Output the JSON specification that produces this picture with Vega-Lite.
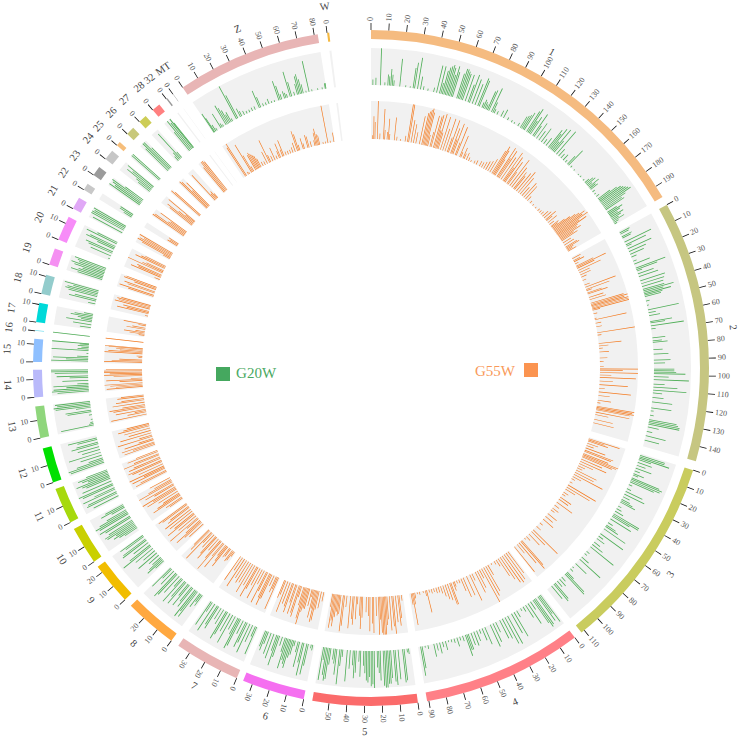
{"$schema":"https://vega.github.io/schema/vega-lite/v6.json","width":738,"height":736,"autosize":"none","padding":{"left":2,"top":0,"right":0,"bottom":4},"background":"white","config":{"view":{"stroke":null}},
"datasets":{
"chroms":[{"c":"1","start":0,"end":197},{"c":"2","start":202,"end":350.5},{"c":"3","start":355.7,"end":467.7},{"c":"4","start":472.4,"end":563.4},{"c":"5","start":568.6,"end":628.1},{"c":"6","start":633,"end":668.5},{"c":"7","start":672.4,"end":709.9},{"c":"8","start":714.7,"end":744.7},{"c":"9","start":749.4,"end":773.4},{"c":"10","start":776.9,"end":798.4},{"c":"11","start":802.6,"end":823.1},{"c":"12","start":827,"end":847},{"c":"13","start":852.9,"end":870.9},{"c":"14","start":876,"end":891.5},{"c":"15","start":895.9,"end":908.9},{"c":"16","start":913.4,"end":913.9},{"c":"17","start":918.3,"end":929.3},{"c":"18","start":934.5,"end":945.5},{"c":"19","start":951.4,"end":961},{"c":"20","start":966.3,"end":980.3},{"c":"21","start":985.5,"end":992.5},{"c":"22","start":997.7,"end":1001.7},{"c":"23","start":1007.6,"end":1013.1},{"c":"24","start":1018.8,"end":1024.8},{"c":"25","start":1028.8,"end":1031.3},{"c":"26","start":1037.4,"end":1042.2},{"c":"27","start":1047,"end":1051.8},{"c":"28","start":1057,"end":1061.8},{"c":"32","start":1066.8,"end":1067.6},{"c":"MT","start":1071.4,"end":1071.6},{"c":"Z","start":1078,"end":1160},{"c":"W","start":1165.3,"end":1166.5}],
"ticks":[{"c":"1","m":0},{"c":"1","m":10},{"c":"1","m":20},{"c":"1","m":30},{"c":"1","m":40},{"c":"1","m":50},{"c":"1","m":60},{"c":"1","m":70},{"c":"1","m":80},{"c":"1","m":90},{"c":"1","m":100},{"c":"1","m":110},{"c":"1","m":120},{"c":"1","m":130},{"c":"1","m":140},{"c":"1","m":150},{"c":"1","m":160},{"c":"1","m":170},{"c":"1","m":180},{"c":"1","m":190},{"c":"2","m":0},{"c":"2","m":10},{"c":"2","m":20},{"c":"2","m":30},{"c":"2","m":40},{"c":"2","m":50},{"c":"2","m":60},{"c":"2","m":70},{"c":"2","m":80},{"c":"2","m":90},{"c":"2","m":100},{"c":"2","m":110},{"c":"2","m":120},{"c":"2","m":130},{"c":"2","m":140},{"c":"3","m":0},{"c":"3","m":10},{"c":"3","m":20},{"c":"3","m":30},{"c":"3","m":40},{"c":"3","m":50},{"c":"3","m":60},{"c":"3","m":70},{"c":"3","m":80},{"c":"3","m":90},{"c":"3","m":100},{"c":"3","m":110},{"c":"4","m":0},{"c":"4","m":10},{"c":"4","m":20},{"c":"4","m":30},{"c":"4","m":40},{"c":"4","m":50},{"c":"4","m":60},{"c":"4","m":70},{"c":"4","m":80},{"c":"4","m":90},{"c":"5","m":0},{"c":"5","m":10},{"c":"5","m":20},{"c":"5","m":30},{"c":"5","m":40},{"c":"5","m":50},{"c":"6","m":0},{"c":"6","m":10},{"c":"6","m":20},{"c":"6","m":30},{"c":"7","m":0},{"c":"7","m":10},{"c":"7","m":20},{"c":"7","m":30},{"c":"8","m":0},{"c":"8","m":10},{"c":"8","m":20},{"c":"9","m":0},{"c":"9","m":10},{"c":"9","m":20},{"c":"10","m":0},{"c":"10","m":10},{"c":"11","m":0},{"c":"11","m":10},{"c":"12","m":0},{"c":"12","m":10},{"c":"13","m":0},{"c":"13","m":10},{"c":"14","m":0},{"c":"14","m":10},{"c":"15","m":0},{"c":"15","m":10},{"c":"16","m":0},{"c":"17","m":0},{"c":"17","m":10},{"c":"18","m":0},{"c":"18","m":10},{"c":"19","m":0},{"c":"20","m":0},{"c":"20","m":10},{"c":"21","m":0},{"c":"22","m":0},{"c":"23","m":0},{"c":"24","m":0},{"c":"25","m":0},{"c":"26","m":0},{"c":"27","m":0},{"c":"28","m":0},{"c":"32","m":0},{"c":"MT","m":0},{"c":"Z","m":0},{"c":"Z","m":10},{"c":"Z","m":20},{"c":"Z","m":30},{"c":"Z","m":40},{"c":"Z","m":50},{"c":"Z","m":60},{"c":"Z","m":70},{"c":"Z","m":80},{"c":"W","m":0}],
"g":[{"c":"1","m":1,"v":15},{"c":"1","m":3,"v":20},{"c":"1","m":6,"v":100},{"c":"1","m":9,"v":8},{"c":"1","m":11,"v":30},{"c":"1","m":12,"v":25},{"c":"1","m":13,"v":45},{"c":"1","m":14,"v":30},{"c":"1","m":15,"v":15},{"c":"1","m":19,"v":75},{"c":"1","m":23,"v":5},{"c":"1","m":26,"v":4},{"c":"1","m":28,"v":55},{"c":"1","m":29,"v":70},{"c":"1","m":31,"v":85},{"c":"1","m":33,"v":35},{"c":"1","m":35,"v":10},{"c":"1","m":38,"v":6},{"c":"1","m":42,"v":12},{"c":"1","m":44,"v":75},{"c":"1","m":46,"v":75},{"c":"1","m":47,"v":30},{"c":"1","m":48,"v":65},{"c":"1","m":49,"v":75},{"c":"1","m":50,"v":80},{"c":"1","m":51,"v":85},{"c":"1","m":52,"v":78},{"c":"1","m":53,"v":60},{"c":"1","m":54,"v":85},{"c":"1","m":55,"v":70},{"c":"1","m":58,"v":70},{"c":"1","m":59,"v":85},{"c":"1","m":60,"v":85},{"c":"1","m":61,"v":80},{"c":"1","m":62,"v":75},{"c":"1","m":64,"v":75},{"c":"1","m":66,"v":50},{"c":"1","m":67,"v":80},{"c":"1","m":69,"v":70},{"c":"1","m":71,"v":60},{"c":"1","m":73,"v":80},{"c":"1","m":74,"v":75},{"c":"1","m":76,"v":15},{"c":"1","m":77,"v":25},{"c":"1","m":78,"v":20},{"c":"1","m":79,"v":15},{"c":"1","m":80,"v":55},{"c":"1","m":81,"v":60},{"c":"1","m":83,"v":70},{"c":"1","m":84,"v":30},{"c":"1","m":85,"v":12},{"c":"1","m":87,"v":10},{"c":"1","m":90,"v":18},{"c":"1","m":92,"v":25},{"c":"1","m":95,"v":8},{"c":"1","m":98,"v":6},{"c":"1","m":100,"v":5},{"c":"1","m":103,"v":10},{"c":"1","m":105,"v":35},{"c":"1","m":106,"v":40},{"c":"1","m":107,"v":45},{"c":"1","m":108,"v":55},{"c":"1","m":110,"v":65},{"c":"1","m":111,"v":75},{"c":"1","m":112,"v":40},{"c":"1","m":113,"v":55},{"c":"1","m":115,"v":70},{"c":"1","m":116,"v":35},{"c":"1","m":118,"v":50},{"c":"1","m":120,"v":30},{"c":"1","m":122,"v":45},{"c":"1","m":124,"v":15},{"c":"1","m":126,"v":25},{"c":"1","m":128,"v":60},{"c":"1","m":129,"v":50},{"c":"1","m":130,"v":70},{"c":"1","m":131,"v":30},{"c":"1","m":132,"v":75},{"c":"1","m":133,"v":40},{"c":"1","m":135,"v":80},{"c":"1","m":137,"v":25},{"c":"1","m":139,"v":15},{"c":"1","m":141,"v":20},{"c":"1","m":143,"v":8},{"c":"1","m":145,"v":30},{"c":"1","m":146,"v":55},{"c":"1","m":148,"v":6},{"c":"1","m":151,"v":4},{"c":"1","m":155,"v":3},{"c":"1","m":157,"v":5},{"c":"1","m":160,"v":5},{"c":"1","m":162,"v":15},{"c":"1","m":163,"v":25},{"c":"1","m":164,"v":30},{"c":"1","m":165,"v":15},{"c":"1","m":166,"v":35},{"c":"1","m":167,"v":20},{"c":"1","m":168,"v":25},{"c":"1","m":170,"v":8},{"c":"1","m":172,"v":5},{"c":"1","m":174,"v":10},{"c":"1","m":176,"v":40},{"c":"1","m":177,"v":60},{"c":"1","m":178,"v":70},{"c":"1","m":179,"v":75},{"c":"1","m":180,"v":80},{"c":"1","m":181,"v":85},{"c":"1","m":182,"v":90},{"c":"1","m":183,"v":70},{"c":"1","m":184,"v":55},{"c":"1","m":185,"v":60},{"c":"1","m":187,"v":30},{"c":"1","m":188,"v":45},{"c":"1","m":189,"v":35},{"c":"1","m":190,"v":25},{"c":"1","m":191,"v":40},{"c":"1","m":192,"v":30},{"c":"1","m":193,"v":20},{"c":"1","m":194,"v":35},{"c":"1","m":195,"v":15},{"c":"1","m":196,"v":8},
{"c":"2","m":1,"v":30},{"c":"2","m":2,"v":25},{"c":"2","m":4,"v":30},{"c":"2","m":5,"v":25},{"c":"2","m":8,"v":80},{"c":"2","m":10,"v":60},{"c":"2","m":11,"v":15},{"c":"2","m":13,"v":70},{"c":"2","m":15,"v":50},{"c":"2","m":17,"v":40},{"c":"2","m":19,"v":15},{"c":"2","m":22,"v":10},{"c":"2","m":24,"v":45},{"c":"2","m":27,"v":85},{"c":"2","m":28,"v":60},{"c":"2","m":29,"v":15},{"c":"2","m":31,"v":45},{"c":"2","m":33,"v":55},{"c":"2","m":36,"v":70},{"c":"2","m":38,"v":65},{"c":"2","m":40,"v":60},{"c":"2","m":42,"v":60},{"c":"2","m":43,"v":85},{"c":"2","m":44,"v":55},{"c":"2","m":45,"v":75},{"c":"2","m":46,"v":50},{"c":"2","m":47,"v":45},{"c":"2","m":50,"v":10},{"c":"2","m":53,"v":5},{"c":"2","m":56,"v":85},{"c":"2","m":58,"v":20},{"c":"2","m":60,"v":30},{"c":"2","m":64,"v":60},{"c":"2","m":65,"v":40},{"c":"2","m":67,"v":90},{"c":"2","m":69,"v":12},{"c":"2","m":75,"v":35},{"c":"2","m":77,"v":25},{"c":"2","m":78,"v":40},{"c":"2","m":83,"v":25},{"c":"2","m":86,"v":40},{"c":"2","m":90,"v":45},{"c":"2","m":92,"v":30},{"c":"2","m":96,"v":55},{"c":"2","m":97,"v":55},{"c":"2","m":98,"v":60},{"c":"2","m":99,"v":85},{"c":"2","m":101,"v":40},{"c":"2","m":103,"v":95},{"c":"2","m":106,"v":30},{"c":"2","m":108,"v":65},{"c":"2","m":110,"v":90},{"c":"2","m":112,"v":25},{"c":"2","m":115,"v":30},{"c":"2","m":118,"v":55},{"c":"2","m":122,"v":55},{"c":"2","m":124,"v":8},{"c":"2","m":127,"v":10},{"c":"2","m":130,"v":75},{"c":"2","m":131,"v":80},{"c":"2","m":132,"v":85},{"c":"2","m":133,"v":85},{"c":"2","m":135,"v":30},{"c":"2","m":138,"v":15},{"c":"2","m":141,"v":55},{"c":"2","m":144,"v":40},
{"c":"3","m":1,"v":70},{"c":"3","m":2,"v":70},{"c":"3","m":3,"v":85},{"c":"3","m":4,"v":35},{"c":"3","m":6,"v":40},{"c":"3","m":8,"v":25},{"c":"3","m":10,"v":45},{"c":"3","m":12,"v":15},{"c":"3","m":14,"v":30},{"c":"3","m":15,"v":15},{"c":"3","m":17,"v":80},{"c":"3","m":18,"v":90},{"c":"3","m":19,"v":85},{"c":"3","m":20,"v":70},{"c":"3","m":22,"v":10},{"c":"3","m":25,"v":12},{"c":"3","m":27,"v":50},{"c":"3","m":29,"v":60},{"c":"3","m":31,"v":20},{"c":"3","m":33,"v":25},{"c":"3","m":34,"v":35},{"c":"3","m":35,"v":45},{"c":"3","m":38,"v":10},{"c":"3","m":40,"v":15},{"c":"3","m":42,"v":25},{"c":"3","m":44,"v":80},{"c":"3","m":45,"v":80},{"c":"3","m":46,"v":55},{"c":"3","m":48,"v":65},{"c":"3","m":51,"v":15},{"c":"3","m":53,"v":30},{"c":"3","m":54,"v":40},{"c":"3","m":56,"v":70},{"c":"3","m":60,"v":75},{"c":"3","m":62,"v":15},{"c":"3","m":64,"v":25},{"c":"3","m":67,"v":20},{"c":"3","m":69,"v":35},{"c":"3","m":71,"v":80},{"c":"3","m":75,"v":10},{"c":"3","m":77,"v":8},{"c":"3","m":80,"v":25},{"c":"3","m":82,"v":75},{"c":"3","m":86,"v":40},{"c":"3","m":89,"v":5},{"c":"3","m":91,"v":10},{"c":"3","m":94,"v":25},{"c":"3","m":95,"v":70},{"c":"3","m":96,"v":75},{"c":"3","m":99,"v":15},{"c":"3","m":101,"v":25},{"c":"3","m":103,"v":20},{"c":"3","m":105,"v":55},{"c":"3","m":106,"v":60},{"c":"3","m":108,"v":45},
{"c":"4","m":1,"v":90},{"c":"4","m":2,"v":60},{"c":"4","m":3,"v":80},{"c":"4","m":5,"v":85},{"c":"4","m":6,"v":90},{"c":"4","m":7,"v":75},{"c":"4","m":9,"v":25},{"c":"4","m":11,"v":65},{"c":"4","m":13,"v":40},{"c":"4","m":15,"v":15},{"c":"4","m":17,"v":8},{"c":"4","m":20,"v":20},{"c":"4","m":22,"v":75},{"c":"4","m":24,"v":60},{"c":"4","m":27,"v":85},{"c":"4","m":29,"v":80},{"c":"4","m":31,"v":60},{"c":"4","m":33,"v":55},{"c":"4","m":36,"v":30},{"c":"4","m":38,"v":55},{"c":"4","m":40,"v":65},{"c":"4","m":44,"v":50},{"c":"4","m":46,"v":35},{"c":"4","m":48,"v":12},{"c":"4","m":50,"v":30},{"c":"4","m":52,"v":40},{"c":"4","m":54,"v":35},{"c":"4","m":56,"v":45},{"c":"4","m":57,"v":45},{"c":"4","m":58,"v":60},{"c":"4","m":60,"v":15},{"c":"4","m":62,"v":10},{"c":"4","m":64,"v":25},{"c":"4","m":66,"v":12},{"c":"4","m":68,"v":8},{"c":"4","m":70,"v":5},{"c":"4","m":72,"v":25},{"c":"4","m":74,"v":15},{"c":"4","m":76,"v":30},{"c":"4","m":78,"v":20},{"c":"4","m":80,"v":35},{"c":"4","m":84,"v":10},{"c":"4","m":86,"v":5},{"c":"4","m":88,"v":60},{"c":"4","m":89,"v":80},
{"c":"5","m":1,"v":15},{"c":"5","m":2,"v":10},{"c":"5","m":4,"v":85},{"c":"5","m":5,"v":90},{"c":"5","m":8,"v":80},{"c":"5","m":10,"v":95},{"c":"5","m":11,"v":85},{"c":"5","m":13,"v":75},{"c":"5","m":14,"v":90},{"c":"5","m":15,"v":90},{"c":"5","m":16,"v":100},{"c":"5","m":17,"v":100},{"c":"5","m":18,"v":95},{"c":"5","m":20,"v":80},{"c":"5","m":21,"v":60},{"c":"5","m":22,"v":45},{"c":"5","m":24,"v":100},{"c":"5","m":25,"v":90},{"c":"5","m":26,"v":95},{"c":"5","m":27,"v":70},{"c":"5","m":28,"v":85},{"c":"5","m":29,"v":80},{"c":"5","m":30,"v":60},{"c":"5","m":31,"v":40},{"c":"5","m":33,"v":70},{"c":"5","m":34,"v":30},{"c":"5","m":36,"v":60},{"c":"5","m":37,"v":75},{"c":"5","m":38,"v":40},{"c":"5","m":40,"v":50},{"c":"5","m":42,"v":85},{"c":"5","m":45,"v":20},{"c":"5","m":46,"v":45},{"c":"5","m":47,"v":95},{"c":"5","m":49,"v":70},{"c":"5","m":50,"v":40},{"c":"5","m":51,"v":30},{"c":"5","m":53,"v":45},{"c":"5","m":54,"v":85},{"c":"5","m":55,"v":90},{"c":"5","m":56,"v":75},{"c":"5","m":57,"v":35},{"c":"5","m":58,"v":90},
{"c":"6","m":1,"v":15},{"c":"6","m":2,"v":10},{"c":"6","m":4,"v":60},{"c":"6","m":5,"v":85},{"c":"6","m":7,"v":90},{"c":"6","m":8,"v":55},{"c":"6","m":10,"v":70},{"c":"6","m":11,"v":30},{"c":"6","m":13,"v":15},{"c":"6","m":14,"v":40},{"c":"6","m":15,"v":50},{"c":"6","m":16,"v":80},{"c":"6","m":17,"v":70},{"c":"6","m":18,"v":60},{"c":"6","m":19,"v":85},{"c":"6","m":20,"v":40},{"c":"6","m":22,"v":25},{"c":"6","m":24,"v":60},{"c":"6","m":25,"v":85},{"c":"6","m":26,"v":45},{"c":"6","m":28,"v":70},{"c":"6","m":30,"v":60},{"c":"6","m":32,"v":35},{"c":"6","m":33,"v":55},{"c":"6","m":34,"v":45},
{"c":"7","m":1,"v":80},{"c":"7","m":2,"v":30},{"c":"7","m":4,"v":50},{"c":"7","m":6,"v":85},{"c":"7","m":8,"v":60},{"c":"7","m":9,"v":75},{"c":"7","m":11,"v":40},{"c":"7","m":13,"v":80},{"c":"7","m":14,"v":90},{"c":"7","m":15,"v":50},{"c":"7","m":17,"v":40},{"c":"7","m":19,"v":85},{"c":"7","m":21,"v":55},{"c":"7","m":23,"v":70},{"c":"7","m":24,"v":85},{"c":"7","m":26,"v":45},{"c":"7","m":28,"v":35},{"c":"7","m":30,"v":70},{"c":"7","m":31,"v":60},{"c":"7","m":33,"v":85},{"c":"7","m":35,"v":30},{"c":"7","m":36,"v":75},
{"c":"8","m":1,"v":35},{"c":"8","m":2,"v":25},{"c":"8","m":3,"v":45},{"c":"8","m":5,"v":85},{"c":"8","m":6,"v":70},{"c":"8","m":7,"v":90},{"c":"8","m":9,"v":65},{"c":"8","m":10,"v":50},{"c":"8","m":12,"v":70},{"c":"8","m":13,"v":40},{"c":"8","m":15,"v":75},{"c":"8","m":16,"v":55},{"c":"8","m":18,"v":80},{"c":"8","m":19,"v":30},{"c":"8","m":21,"v":60},{"c":"8","m":23,"v":75},{"c":"8","m":24,"v":85},{"c":"8","m":26,"v":50},{"c":"8","m":28,"v":35},{"c":"8","m":29,"v":70},
{"c":"9","m":1,"v":30},{"c":"9","m":2,"v":55},{"c":"9","m":3,"v":45},{"c":"9","m":4,"v":30},{"c":"9","m":6,"v":35},{"c":"9","m":8,"v":65},{"c":"9","m":10,"v":40},{"c":"9","m":12,"v":60},{"c":"9","m":14,"v":95},{"c":"9","m":15,"v":70},{"c":"9","m":17,"v":50},{"c":"9","m":19,"v":80},{"c":"9","m":20,"v":75},{"c":"9","m":22,"v":60},{"c":"9","m":23,"v":75},
{"c":"10","m":2,"v":40},{"c":"10","m":3,"v":55},{"c":"10","m":4,"v":70},{"c":"10","m":5,"v":60},{"c":"10","m":6,"v":85},{"c":"10","m":7,"v":90},{"c":"10","m":8,"v":75},{"c":"10","m":10,"v":80},{"c":"10","m":11,"v":95},{"c":"10","m":13,"v":90},{"c":"10","m":14,"v":100},{"c":"10","m":15,"v":85},{"c":"10","m":16,"v":60},{"c":"10","m":18,"v":40},{"c":"10","m":19,"v":70},{"c":"10","m":20,"v":55},
{"c":"11","m":1,"v":75},{"c":"11","m":3,"v":90},{"c":"11","m":4,"v":85},{"c":"11","m":6,"v":95},{"c":"11","m":7,"v":60},{"c":"11","m":9,"v":90},{"c":"11","m":10,"v":100},{"c":"11","m":12,"v":85},{"c":"11","m":14,"v":70},{"c":"11","m":15,"v":80},{"c":"11","m":16,"v":95},{"c":"11","m":17,"v":60},{"c":"11","m":18,"v":75},{"c":"11","m":19,"v":85},{"c":"11","m":20,"v":60},
{"c":"12","m":1,"v":95},{"c":"12","m":2,"v":100},{"c":"12","m":3,"v":75},{"c":"12","m":4,"v":40},{"c":"12","m":6,"v":60},{"c":"12","m":8,"v":90},{"c":"12","m":10,"v":50},{"c":"12","m":12,"v":60},{"c":"12","m":14,"v":75},{"c":"12","m":15,"v":60},{"c":"12","m":17,"v":55},{"c":"12","m":18,"v":80},
{"c":"13","m":1,"v":90},{"c":"13","m":2,"v":12},{"c":"13","m":3,"v":8},{"c":"13","m":5,"v":5},{"c":"13","m":8,"v":8},{"c":"13","m":10,"v":65},{"c":"13","m":11,"v":70},{"c":"13","m":13,"v":40},{"c":"13","m":14,"v":95},{"c":"13","m":15,"v":100},{"c":"13","m":16,"v":90},{"c":"13","m":17,"v":95},
{"c":"14","m":1,"v":85},{"c":"14","m":2,"v":100},{"c":"14","m":3,"v":95},{"c":"14","m":4,"v":60},{"c":"14","m":5,"v":95},{"c":"14","m":6,"v":30},{"c":"14","m":8,"v":70},{"c":"14","m":10,"v":50},{"c":"14","m":11,"v":85},{"c":"14","m":13,"v":90},{"c":"14","m":14,"v":100},{"c":"14","m":15,"v":100},
{"c":"15","m":1,"v":100},{"c":"15","m":2,"v":60},{"c":"15","m":3,"v":95},{"c":"15","m":4,"v":30},{"c":"15","m":6,"v":5},{"c":"15","m":8,"v":100},{"c":"15","m":9,"v":30},{"c":"15","m":10,"v":20},{"c":"15","m":11,"v":30},{"c":"15","m":12,"v":25},{"c":"15","m":12.5,"v":100},
{"c":"16","m":0.1,"v":100},
{"c":"17","m":1,"v":30},{"c":"17","m":3,"v":50},{"c":"17","m":5,"v":70},{"c":"17","m":6,"v":30},{"c":"17","m":7,"v":40},{"c":"17","m":8,"v":60},{"c":"17","m":9,"v":50},{"c":"17","m":10,"v":25},
{"c":"18","m":1,"v":20},{"c":"18","m":3,"v":75},{"c":"18","m":4,"v":60},{"c":"18","m":6,"v":80},{"c":"18","m":7,"v":90},{"c":"18","m":8,"v":85},{"c":"18","m":9,"v":70},{"c":"18","m":10,"v":95},
{"c":"19","m":1,"v":70},{"c":"19","m":2,"v":90},{"c":"19","m":3,"v":70},{"c":"19","m":4,"v":60},{"c":"19","m":5,"v":85},{"c":"19","m":6,"v":95},{"c":"19","m":7,"v":75},{"c":"19","m":8,"v":80},{"c":"19","m":9,"v":90},
{"c":"20","m":1,"v":5},{"c":"20","m":3,"v":60},{"c":"20","m":5,"v":70},{"c":"20","m":6,"v":80},{"c":"20","m":8,"v":50},{"c":"20","m":9,"v":85},{"c":"20","m":10,"v":75},{"c":"20","m":12,"v":90},{"c":"20","m":13,"v":60},
{"c":"21","m":1,"v":90},{"c":"21","m":3,"v":100},{"c":"21","m":4,"v":100},{"c":"21","m":5,"v":95},{"c":"21","m":6,"v":100},
{"c":"22","m":1,"v":25},{"c":"22","m":2,"v":40},{"c":"22","m":3,"v":40},
{"c":"23","m":1,"v":100},{"c":"23","m":2,"v":85},{"c":"23","m":3,"v":95},{"c":"23","m":4,"v":100},{"c":"23","m":5,"v":60},
{"c":"24","m":1,"v":40},{"c":"24","m":2,"v":50},{"c":"24","m":3,"v":85},{"c":"24","m":4,"v":70},{"c":"24","m":5,"v":90},
{"c":"25","m":1,"v":100},{"c":"25","m":2,"v":100},
{"c":"26","m":1,"v":85},{"c":"26","m":2,"v":100},{"c":"26","m":3,"v":100},{"c":"26","m":4,"v":75},
{"c":"27","m":1,"v":15},{"c":"27","m":2,"v":25},{"c":"27","m":3,"v":90},{"c":"27","m":4,"v":20},
{"c":"28","m":1,"v":65},{"c":"28","m":2,"v":100},{"c":"28","m":3,"v":90},{"c":"28","m":4,"v":100},{"c":"28","m":4.5,"v":85},
{"c":"Z","m":0.5,"v":60},{"c":"Z","m":1,"v":45},{"c":"Z","m":2,"v":20},{"c":"Z","m":3,"v":8},{"c":"Z","m":6,"v":45},{"c":"Z","m":7,"v":12},{"c":"Z","m":8,"v":6},{"c":"Z","m":10,"v":60},{"c":"Z","m":11,"v":50},{"c":"Z","m":12,"v":40},{"c":"Z","m":13,"v":25},{"c":"Z","m":14,"v":30},{"c":"Z","m":15,"v":8},{"c":"Z","m":18,"v":100},{"c":"Z","m":19,"v":70},{"c":"Z","m":21,"v":25},{"c":"Z","m":22,"v":15},{"c":"Z","m":24,"v":12},{"c":"Z","m":26,"v":8},{"c":"Z","m":28,"v":8},{"c":"Z","m":30,"v":10},{"c":"Z","m":32,"v":10},{"c":"Z","m":35,"v":50},{"c":"Z","m":36,"v":30},{"c":"Z","m":38,"v":8},{"c":"Z","m":40,"v":8},{"c":"Z","m":42,"v":15},{"c":"Z","m":44,"v":5},{"c":"Z","m":46,"v":5},{"c":"Z","m":49,"v":55},{"c":"Z","m":50,"v":40},{"c":"Z","m":51,"v":15},{"c":"Z","m":53,"v":20},{"c":"Z","m":54,"v":15},{"c":"Z","m":55,"v":10},{"c":"Z","m":57,"v":70},{"c":"Z","m":58,"v":40},{"c":"Z","m":60,"v":10},{"c":"Z","m":62,"v":30},{"c":"Z","m":63,"v":50},{"c":"Z","m":64,"v":55},{"c":"Z","m":65,"v":40},{"c":"Z","m":66,"v":25},{"c":"Z","m":68,"v":5},{"c":"Z","m":70,"v":85},{"c":"Z","m":72,"v":5},{"c":"Z","m":76,"v":5},{"c":"Z","m":79,"v":5},{"c":"Z","m":81,"v":15},{"c":"Z","m":81.5,"v":15}],
"o":[{"c":"1","m":1,"v":10},{"c":"1","m":2,"v":60},{"c":"1","m":3,"v":45},{"c":"1","m":5,"v":100},{"c":"1","m":7,"v":15},{"c":"1","m":10,"v":80},{"c":"1","m":11,"v":25},{"c":"1","m":13,"v":20},{"c":"1","m":14,"v":55},{"c":"1","m":15,"v":15},{"c":"1","m":19,"v":60},{"c":"1","m":21,"v":10},{"c":"1","m":24,"v":5},{"c":"1","m":28,"v":15},{"c":"1","m":30,"v":100},{"c":"1","m":31,"v":100},{"c":"1","m":33,"v":60},{"c":"1","m":35,"v":50},{"c":"1","m":37,"v":30},{"c":"1","m":40,"v":75},{"c":"1","m":42,"v":85},{"c":"1","m":43,"v":90},{"c":"1","m":44,"v":95},{"c":"1","m":45,"v":100},{"c":"1","m":46,"v":90},{"c":"1","m":47,"v":30},{"c":"1","m":49,"v":40},{"c":"1","m":50,"v":85},{"c":"1","m":52,"v":85},{"c":"1","m":53,"v":90},{"c":"1","m":54,"v":50},{"c":"1","m":55,"v":95},{"c":"1","m":56,"v":45},{"c":"1","m":58,"v":90},{"c":"1","m":60,"v":60},{"c":"1","m":62,"v":90},{"c":"1","m":64,"v":40},{"c":"1","m":65,"v":90},{"c":"1","m":67,"v":70},{"c":"1","m":68,"v":40},{"c":"1","m":69,"v":85},{"c":"1","m":71,"v":35},{"c":"1","m":72,"v":80},{"c":"1","m":75,"v":60},{"c":"1","m":76,"v":15},{"c":"1","m":78,"v":30},{"c":"1","m":79,"v":15},{"c":"1","m":81,"v":20},{"c":"1","m":83,"v":10},{"c":"1","m":85,"v":5},{"c":"1","m":88,"v":8},{"c":"1","m":90,"v":12},{"c":"1","m":93,"v":15},{"c":"1","m":95,"v":15},{"c":"1","m":97,"v":20},{"c":"1","m":99,"v":25},{"c":"1","m":101,"v":30},{"c":"1","m":103,"v":40},{"c":"1","m":105,"v":70},{"c":"1","m":106,"v":85},{"c":"1","m":107,"v":75},{"c":"1","m":108,"v":50},{"c":"1","m":110,"v":90},{"c":"1","m":111,"v":60},{"c":"1","m":112,"v":85},{"c":"1","m":114,"v":70},{"c":"1","m":116,"v":90},{"c":"1","m":117,"v":45},{"c":"1","m":118,"v":80},{"c":"1","m":120,"v":70},{"c":"1","m":121,"v":40},{"c":"1","m":123,"v":85},{"c":"1","m":125,"v":65},{"c":"1","m":127,"v":55},{"c":"1","m":128,"v":45},{"c":"1","m":130,"v":60},{"c":"1","m":132,"v":70},{"c":"1","m":134,"v":55},{"c":"1","m":136,"v":30},{"c":"1","m":138,"v":50},{"c":"1","m":140,"v":45},{"c":"1","m":142,"v":15},{"c":"1","m":145,"v":8},{"c":"1","m":148,"v":5},{"c":"1","m":151,"v":5},{"c":"1","m":154,"v":8},{"c":"1","m":156,"v":8},{"c":"1","m":158,"v":10},{"c":"1","m":160,"v":20},{"c":"1","m":162,"v":25},{"c":"1","m":164,"v":35},{"c":"1","m":165,"v":20},{"c":"1","m":167,"v":30},{"c":"1","m":169,"v":15},{"c":"1","m":171,"v":25},{"c":"1","m":172,"v":20},{"c":"1","m":173,"v":40},{"c":"1","m":174,"v":55},{"c":"1","m":175,"v":70},{"c":"1","m":176,"v":80},{"c":"1","m":177,"v":95},{"c":"1","m":178,"v":85},{"c":"1","m":179,"v":100},{"c":"1","m":180,"v":70},{"c":"1","m":181,"v":90},{"c":"1","m":182,"v":60},{"c":"1","m":183,"v":55},{"c":"1","m":184,"v":65},{"c":"1","m":185,"v":40},{"c":"1","m":186,"v":50},{"c":"1","m":188,"v":25},{"c":"1","m":190,"v":30},{"c":"1","m":192,"v":35},{"c":"1","m":193,"v":40},{"c":"1","m":194,"v":20},{"c":"1","m":195,"v":15},{"c":"1","m":196,"v":25},
{"c":"2","m":1,"v":25},{"c":"2","m":3,"v":20},{"c":"2","m":4,"v":30},{"c":"2","m":6,"v":10},{"c":"2","m":8,"v":50},{"c":"2","m":9,"v":85},{"c":"2","m":10,"v":50},{"c":"2","m":12,"v":65},{"c":"2","m":14,"v":30},{"c":"2","m":16,"v":30},{"c":"2","m":18,"v":15},{"c":"2","m":21,"v":10},{"c":"2","m":25,"v":15},{"c":"2","m":27,"v":85},{"c":"2","m":29,"v":65},{"c":"2","m":30,"v":15},{"c":"2","m":32,"v":40},{"c":"2","m":33,"v":55},{"c":"2","m":36,"v":40},{"c":"2","m":38,"v":45},{"c":"2","m":41,"v":90},{"c":"2","m":42,"v":100},{"c":"2","m":43,"v":90},{"c":"2","m":44,"v":100},{"c":"2","m":45,"v":100},{"c":"2","m":46,"v":100},{"c":"2","m":47,"v":20},{"c":"2","m":50,"v":10},{"c":"2","m":54,"v":5},{"c":"2","m":55,"v":85},{"c":"2","m":58,"v":15},{"c":"2","m":61,"v":15},{"c":"2","m":66,"v":100},{"c":"2","m":68,"v":10},{"c":"2","m":75,"v":60},{"c":"2","m":77,"v":25},{"c":"2","m":79,"v":10},{"c":"2","m":82,"v":25},{"c":"2","m":87,"v":20},{"c":"2","m":90,"v":10},{"c":"2","m":94,"v":10},{"c":"2","m":96,"v":100},{"c":"2","m":97,"v":60},{"c":"2","m":99,"v":100},{"c":"2","m":101,"v":30},{"c":"2","m":103,"v":95},{"c":"2","m":106,"v":35},{"c":"2","m":109,"v":75},{"c":"2","m":112,"v":15},{"c":"2","m":115,"v":85},{"c":"2","m":118,"v":30},{"c":"2","m":122,"v":35},{"c":"2","m":124,"v":8},{"c":"2","m":127,"v":100},{"c":"2","m":128,"v":95},{"c":"2","m":129,"v":100},{"c":"2","m":130,"v":90},{"c":"2","m":132,"v":90},{"c":"2","m":134,"v":35},{"c":"2","m":138,"v":50},{"c":"2","m":141,"v":55},
{"c":"3","m":1,"v":85},{"c":"3","m":2,"v":45},{"c":"3","m":3,"v":55},{"c":"3","m":5,"v":30},{"c":"3","m":7,"v":20},{"c":"3","m":9,"v":55},{"c":"3","m":11,"v":80},{"c":"3","m":12,"v":75},{"c":"3","m":14,"v":70},{"c":"3","m":15,"v":100},{"c":"3","m":16,"v":95},{"c":"3","m":17,"v":85},{"c":"3","m":19,"v":60},{"c":"3","m":21,"v":75},{"c":"3","m":23,"v":40},{"c":"3","m":25,"v":20},{"c":"3","m":27,"v":15},{"c":"3","m":29,"v":60},{"c":"3","m":31,"v":55},{"c":"3","m":33,"v":85},{"c":"3","m":35,"v":25},{"c":"3","m":37,"v":10},{"c":"3","m":40,"v":8},{"c":"3","m":43,"v":85},{"c":"3","m":45,"v":70},{"c":"3","m":47,"v":30},{"c":"3","m":50,"v":15},{"c":"3","m":52,"v":10},{"c":"3","m":55,"v":35},{"c":"3","m":57,"v":30},{"c":"3","m":60,"v":50},{"c":"3","m":63,"v":15},{"c":"3","m":66,"v":20},{"c":"3","m":68,"v":12},{"c":"3","m":72,"v":30},{"c":"3","m":75,"v":25},{"c":"3","m":78,"v":35},{"c":"3","m":82,"v":10},{"c":"3","m":86,"v":15},{"c":"3","m":90,"v":90},{"c":"3","m":92,"v":50},{"c":"3","m":95,"v":40},{"c":"3","m":98,"v":15},{"c":"3","m":100,"v":5},{"c":"3","m":103,"v":85},{"c":"3","m":104,"v":95},{"c":"3","m":106,"v":70},{"c":"3","m":108,"v":30},{"c":"3","m":111,"v":85},
{"c":"4","m":1,"v":70},{"c":"4","m":3,"v":85},{"c":"4","m":5,"v":90},{"c":"4","m":7,"v":85},{"c":"4","m":9,"v":70},{"c":"4","m":11,"v":55},{"c":"4","m":13,"v":20},{"c":"4","m":15,"v":10},{"c":"4","m":18,"v":5},{"c":"4","m":21,"v":30},{"c":"4","m":23,"v":75},{"c":"4","m":25,"v":85},{"c":"4","m":27,"v":100},{"c":"4","m":29,"v":25},{"c":"4","m":31,"v":50},{"c":"4","m":33,"v":60},{"c":"4","m":36,"v":20},{"c":"4","m":38,"v":75},{"c":"4","m":41,"v":55},{"c":"4","m":44,"v":55},{"c":"4","m":46,"v":35},{"c":"4","m":48,"v":10},{"c":"4","m":50,"v":8},{"c":"4","m":52,"v":15},{"c":"4","m":53,"v":25},{"c":"4","m":55,"v":60},{"c":"4","m":56,"v":60},{"c":"4","m":58,"v":45},{"c":"4","m":60,"v":40},{"c":"4","m":62,"v":30},{"c":"4","m":64,"v":20},{"c":"4","m":66,"v":15},{"c":"4","m":68,"v":15},{"c":"4","m":70,"v":10},{"c":"4","m":72,"v":12},{"c":"4","m":74,"v":8},{"c":"4","m":76,"v":60},{"c":"4","m":77,"v":15},{"c":"4","m":79,"v":5},{"c":"4","m":82,"v":8},{"c":"4","m":84,"v":5},{"c":"4","m":86,"v":15},{"c":"4","m":87,"v":30},{"c":"4","m":88,"v":85},{"c":"4","m":89,"v":30},
{"c":"5","m":1,"v":15},{"c":"5","m":3,"v":60},{"c":"5","m":4,"v":80},{"c":"5","m":6,"v":70},{"c":"5","m":8,"v":100},{"c":"5","m":9,"v":80},{"c":"5","m":11,"v":90},{"c":"5","m":13,"v":60},{"c":"5","m":14,"v":75},{"c":"5","m":15,"v":100},{"c":"5","m":16,"v":100},{"c":"5","m":17,"v":100},{"c":"5","m":18,"v":95},{"c":"5","m":19,"v":60},{"c":"5","m":20,"v":100},{"c":"5","m":22,"v":50},{"c":"5","m":24,"v":95},{"c":"5","m":25,"v":70},{"c":"5","m":27,"v":90},{"c":"5","m":28,"v":50},{"c":"5","m":30,"v":40},{"c":"5","m":33,"v":55},{"c":"5","m":34,"v":85},{"c":"5","m":35,"v":50},{"c":"5","m":37,"v":20},{"c":"5","m":38,"v":60},{"c":"5","m":40,"v":75},{"c":"5","m":41,"v":60},{"c":"5","m":43,"v":85},{"c":"5","m":46,"v":30},{"c":"5","m":48,"v":80},{"c":"5","m":49,"v":95},{"c":"5","m":51,"v":50},{"c":"5","m":52,"v":55},{"c":"5","m":53,"v":45},{"c":"5","m":54,"v":60},{"c":"5","m":55,"v":85},{"c":"5","m":56,"v":70},{"c":"5","m":57,"v":90},{"c":"5","m":58,"v":35},
{"c":"6","m":1,"v":25},{"c":"6","m":3,"v":45},{"c":"6","m":5,"v":50},{"c":"6","m":6,"v":80},{"c":"6","m":7,"v":85},{"c":"6","m":8,"v":50},{"c":"6","m":9,"v":75},{"c":"6","m":10,"v":20},{"c":"6","m":11,"v":45},{"c":"6","m":13,"v":55},{"c":"6","m":14,"v":55},{"c":"6","m":15,"v":65},{"c":"6","m":16,"v":100},{"c":"6","m":17,"v":85},{"c":"6","m":18,"v":50},{"c":"6","m":20,"v":30},{"c":"6","m":21,"v":85},{"c":"6","m":22,"v":75},{"c":"6","m":24,"v":80},{"c":"6","m":25,"v":50},{"c":"6","m":27,"v":80},{"c":"6","m":28,"v":65},{"c":"6","m":30,"v":60},{"c":"6","m":32,"v":85},{"c":"6","m":34,"v":40},{"c":"6","m":35,"v":50},
{"c":"7","m":1,"v":90},{"c":"7","m":2,"v":35},{"c":"7","m":3,"v":45},{"c":"7","m":5,"v":30},{"c":"7","m":7,"v":70},{"c":"7","m":8,"v":90},{"c":"7","m":9,"v":70},{"c":"7","m":11,"v":55},{"c":"7","m":12,"v":90},{"c":"7","m":14,"v":40},{"c":"7","m":16,"v":85},{"c":"7","m":18,"v":50},{"c":"7","m":20,"v":65},{"c":"7","m":21,"v":90},{"c":"7","m":23,"v":60},{"c":"7","m":25,"v":85},{"c":"7","m":27,"v":60},{"c":"7","m":29,"v":65},{"c":"7","m":31,"v":55},{"c":"7","m":33,"v":85},{"c":"7","m":35,"v":40},{"c":"7","m":37,"v":75},
{"c":"8","m":1,"v":15},{"c":"8","m":2,"v":30},{"c":"8","m":3,"v":35},{"c":"8","m":5,"v":25},{"c":"8","m":6,"v":30},{"c":"8","m":8,"v":65},{"c":"8","m":9,"v":50},{"c":"8","m":10,"v":35},{"c":"8","m":12,"v":80},{"c":"8","m":13,"v":45},{"c":"8","m":15,"v":95},{"c":"8","m":16,"v":60},{"c":"8","m":18,"v":40},{"c":"8","m":20,"v":75},{"c":"8","m":21,"v":60},{"c":"8","m":23,"v":45},{"c":"8","m":25,"v":35},{"c":"8","m":26,"v":95},{"c":"8","m":28,"v":70},{"c":"8","m":29,"v":55},
{"c":"9","m":1,"v":50},{"c":"9","m":3,"v":60},{"c":"9","m":4,"v":85},{"c":"9","m":5,"v":50},{"c":"9","m":7,"v":40},{"c":"9","m":8,"v":95},{"c":"9","m":10,"v":60},{"c":"9","m":12,"v":90},{"c":"9","m":13,"v":65},{"c":"9","m":15,"v":75},{"c":"9","m":17,"v":85},{"c":"9","m":19,"v":70},{"c":"9","m":20,"v":60},{"c":"9","m":22,"v":80},{"c":"9","m":23,"v":90},
{"c":"10","m":1,"v":40},{"c":"10","m":2,"v":50},{"c":"10","m":4,"v":85},{"c":"10","m":5,"v":70},{"c":"10","m":6,"v":50},{"c":"10","m":8,"v":60},{"c":"10","m":10,"v":90},{"c":"10","m":11,"v":70},{"c":"10","m":12,"v":100},{"c":"10","m":14,"v":60},{"c":"10","m":15,"v":85},{"c":"10","m":17,"v":100},{"c":"10","m":18,"v":70},{"c":"10","m":19,"v":50},{"c":"10","m":21,"v":60},
{"c":"11","m":1,"v":90},{"c":"11","m":2,"v":75},{"c":"11","m":4,"v":95},{"c":"11","m":5,"v":60},{"c":"11","m":6,"v":100},{"c":"11","m":8,"v":70},{"c":"11","m":10,"v":85},{"c":"11","m":11,"v":95},{"c":"11","m":13,"v":90},{"c":"11","m":14,"v":75},{"c":"11","m":16,"v":100},{"c":"11","m":17,"v":70},{"c":"11","m":19,"v":85},{"c":"11","m":20,"v":60},
{"c":"12","m":1,"v":85},{"c":"12","m":2,"v":60},{"c":"12","m":3,"v":90},{"c":"12","m":5,"v":80},{"c":"12","m":6,"v":40},{"c":"12","m":8,"v":95},{"c":"12","m":9,"v":35},{"c":"12","m":11,"v":85},{"c":"12","m":13,"v":60},{"c":"12","m":15,"v":70},{"c":"12","m":17,"v":85},{"c":"12","m":18,"v":70},{"c":"12","m":19,"v":60},
{"c":"13","m":1,"v":95},{"c":"13","m":3,"v":50},{"c":"13","m":4,"v":30},{"c":"13","m":5,"v":80},{"c":"13","m":7,"v":85},{"c":"13","m":8,"v":95},{"c":"13","m":9,"v":60},{"c":"13","m":11,"v":85},{"c":"13","m":13,"v":75},{"c":"13","m":14,"v":60},{"c":"13","m":16,"v":70},{"c":"13","m":17,"v":60},
{"c":"14","m":1,"v":95},{"c":"14","m":2,"v":70},{"c":"14","m":3,"v":85},{"c":"14","m":4,"v":100},{"c":"14","m":6,"v":60},{"c":"14","m":7,"v":95},{"c":"14","m":8,"v":30},{"c":"14","m":10,"v":75},{"c":"14","m":11,"v":100},{"c":"14","m":12,"v":85},{"c":"14","m":13,"v":100},{"c":"14","m":14,"v":100},{"c":"14","m":15,"v":95},
{"c":"15","m":1,"v":100},{"c":"15","m":2,"v":80},{"c":"15","m":3,"v":60},{"c":"15","m":5,"v":10},{"c":"15","m":6,"v":15},{"c":"15","m":8,"v":100},{"c":"15","m":9,"v":90},{"c":"15","m":10,"v":60},{"c":"15","m":11,"v":70},{"c":"15","m":12,"v":90},{"c":"15","m":12.5,"v":100},
{"c":"16","m":0.1,"v":100},
{"c":"17","m":1,"v":15},{"c":"17","m":2,"v":40},{"c":"17","m":3,"v":55},{"c":"17","m":4,"v":25},{"c":"17","m":6,"v":50},{"c":"17","m":7,"v":35},{"c":"17","m":9,"v":20},{"c":"17","m":10,"v":60},
{"c":"18","m":1,"v":8},{"c":"18","m":3,"v":85},{"c":"18","m":4,"v":60},{"c":"18","m":5,"v":70},{"c":"18","m":7,"v":95},{"c":"18","m":8,"v":85},{"c":"18","m":9,"v":90},{"c":"18","m":10,"v":80},
{"c":"19","m":1,"v":70},{"c":"19","m":2,"v":95},{"c":"19","m":4,"v":75},{"c":"19","m":5,"v":85},{"c":"19","m":7,"v":60},{"c":"19","m":8,"v":90},{"c":"19","m":9,"v":85},
{"c":"20","m":1,"v":15},{"c":"20","m":3,"v":85},{"c":"20","m":4,"v":65},{"c":"20","m":5,"v":70},{"c":"20","m":7,"v":100},{"c":"20","m":8,"v":60},{"c":"20","m":9,"v":50},{"c":"20","m":11,"v":85},{"c":"20","m":12,"v":70},{"c":"20","m":13,"v":60},
{"c":"21","m":1,"v":20},{"c":"21","m":2,"v":85},{"c":"21","m":3,"v":100},{"c":"21","m":4,"v":95},{"c":"21","m":5,"v":85},{"c":"21","m":6,"v":100},
{"c":"22","m":1,"v":30},{"c":"22","m":2,"v":25},{"c":"22","m":3,"v":30},
{"c":"23","m":1,"v":100},{"c":"23","m":2,"v":95},{"c":"23","m":3,"v":55},{"c":"23","m":4,"v":50},{"c":"23","m":5,"v":85},
{"c":"24","m":1,"v":75},{"c":"24","m":2,"v":85},{"c":"24","m":3,"v":50},{"c":"24","m":4,"v":30},{"c":"24","m":5,"v":90},
{"c":"25","m":1,"v":100},{"c":"25","m":2,"v":90},
{"c":"26","m":1,"v":100},{"c":"26","m":2,"v":95},{"c":"26","m":3,"v":60},{"c":"26","m":4,"v":85},
{"c":"27","m":1,"v":90},{"c":"27","m":2,"v":20},{"c":"27","m":3,"v":25},{"c":"27","m":4,"v":15},
{"c":"28","m":1,"v":85},{"c":"28","m":2,"v":100},{"c":"28","m":3,"v":100},{"c":"28","m":4,"v":95},
{"c":"Z","m":2,"v":90},{"c":"Z","m":3,"v":100},{"c":"Z","m":5,"v":8},{"c":"Z","m":6,"v":5},{"c":"Z","m":8,"v":85},{"c":"Z","m":9,"v":50},{"c":"Z","m":10,"v":15},{"c":"Z","m":12,"v":45},{"c":"Z","m":13,"v":50},{"c":"Z","m":14,"v":45},{"c":"Z","m":15,"v":40},{"c":"Z","m":16,"v":35},{"c":"Z","m":17,"v":25},{"c":"Z","m":19,"v":12},{"c":"Z","m":21,"v":10},{"c":"Z","m":23,"v":35},{"c":"Z","m":25,"v":65},{"c":"Z","m":26,"v":20},{"c":"Z","m":28,"v":15},{"c":"Z","m":30,"v":35},{"c":"Z","m":32,"v":10},{"c":"Z","m":34,"v":20},{"c":"Z","m":35,"v":40},{"c":"Z","m":37,"v":20},{"c":"Z","m":38,"v":45},{"c":"Z","m":40,"v":10},{"c":"Z","m":42,"v":10},{"c":"Z","m":44,"v":10},{"c":"Z","m":46,"v":15},{"c":"Z","m":48,"v":25},{"c":"Z","m":50,"v":55},{"c":"Z","m":51,"v":45},{"c":"Z","m":52,"v":15},{"c":"Z","m":55,"v":30},{"c":"Z","m":56,"v":15},{"c":"Z","m":59,"v":35},{"c":"Z","m":60,"v":30},{"c":"Z","m":62,"v":15},{"c":"Z","m":65,"v":15},{"c":"Z","m":66,"v":35},{"c":"Z","m":67,"v":45},{"c":"Z","m":68,"v":30},{"c":"Z","m":69,"v":25},{"c":"Z","m":72,"v":5},{"c":"Z","m":74,"v":5},{"c":"Z","m":76,"v":100},{"c":"Z","m":78,"v":5},{"c":"Z","m":81,"v":25}]
},
"resolve":{"scale":{"radius":"independent","color":"independent"}},
"layer":[
{"data":{"name":"chroms"},"mark":{"type":"arc","innerRadius":283,"outerRadius":320,"fill":"#f1f1f1"},"encoding":{"theta":{"field":"start","type":"quantitative","stack":false,"scale":{"domain":[0,1190],"range":[0,6.28318]}},"theta2":{"field":"end"}}},
{"data":{"name":"chroms"},"mark":{"type":"arc","innerRadius":229,"outerRadius":267,"fill":"#f1f1f1"},"encoding":{"theta":{"field":"start","type":"quantitative","stack":false,"scale":{"domain":[0,1190],"range":[0,6.28318]}},"theta2":{"field":"end"}}},
{"data":{"name":"chroms"},"mark":{"type":"arc","innerRadius":329,"outerRadius":338},"encoding":{"theta":{"field":"start","type":"quantitative","stack":false,"scale":{"domain":[0,1190],"range":[0,6.28318]}},"theta2":{"field":"end"},"color":{"field":"c","type":"nominal","legend":null,"scale":{"domain":["1","2","3","4","5","6","7","8","9","10","11","12","13","14","15","16","17","18","19","20","21","22","23","24","25","26","27","28","32","MT","Z","W"],"range":["#f5bb80","#c6c681","#c9cc5e","#ff8087","#fb6b6b","#f56ff0","#e8b5b5","#ffa840","#f1bd00","#c9d000","#a6d90d","#00e000","#8fd67c","#b9b9fa","#8fc0ff","#7fe0f0","#00d9d9","#93cccc","#f590f2","#f78cf8","#e0a8f6","#c8c8c8","#9b9b9b","#c6c6c6","#f6be7b","#c8c87a","#cdcd56","#ff8080","#999999","#999999","#e8b5b5","#f5b942"]}}}},
{"data":{"name":"g"},"transform":[{"lookup":"c","from":{"data":{"name":"chroms"},"key":"c","fields":["start"]}},{"calculate":"datum.start+datum.m","as":"a"},{"calculate":"datum.a+0.5","as":"b"}],"mark":{"type":"arc","innerRadius":283,"fill":"#4fae57"},"encoding":{"theta":{"field":"a","type":"quantitative","stack":false,"scale":{"domain":[0,1190],"range":[0,6.28318]}},"theta2":{"field":"b"},"radius":{"field":"v","type":"quantitative","scale":{"type":"linear","domain":[0,100],"range":[283,320]}}}},
{"data":{"name":"o"},"transform":[{"lookup":"c","from":{"data":{"name":"chroms"},"key":"c","fields":["start"]}},{"calculate":"datum.start+datum.m","as":"a"},{"calculate":"datum.a+0.5","as":"b"}],"mark":{"type":"arc","innerRadius":229,"fill":"#f47a1f"},"encoding":{"theta":{"field":"a","type":"quantitative","stack":false,"scale":{"domain":[0,1190],"range":[0,6.28318]}},"theta2":{"field":"b"},"radius":{"field":"v","type":"quantitative","scale":{"type":"linear","domain":[0,100],"range":[229,267]}}}},
{"data":{"name":"ticks"},"transform":[{"lookup":"c","from":{"data":{"name":"chroms"},"key":"c","fields":["start"]}},{"calculate":"datum.start+datum.m-0.22","as":"a"},{"calculate":"datum.a+0.44","as":"b"}],"mark":{"type":"arc","innerRadius":338,"outerRadius":345,"fill":"#111111"},"encoding":{"theta":{"field":"a","type":"quantitative","stack":false,"scale":{"domain":[0,1190],"range":[0,6.28318]}},"theta2":{"field":"b"}}},
{"data":{"name":"ticks"},"transform":[{"lookup":"c","from":{"data":{"name":"chroms"},"key":"c","fields":["start"]}},{"calculate":"datum.start+datum.m","as":"a"},{"filter":"datum.a<714"},{"calculate":"datum.a*360/1190-90","as":"ang"}],"mark":{"type":"text","radius":347,"align":"left","baseline":"middle","font":"Liberation Serif","fontSize":8,"fill":"#555555"},"encoding":{"theta":{"field":"a","type":"quantitative","stack":false,"scale":{"domain":[0,1190],"range":[0,6.28318]}},"text":{"field":"m","type":"nominal"},"angle":{"field":"ang","type":"quantitative","scale":null}}},
{"data":{"name":"ticks"},"transform":[{"lookup":"c","from":{"data":{"name":"chroms"},"key":"c","fields":["start"]}},{"calculate":"datum.start+datum.m","as":"a"},{"filter":"datum.a>=714"},{"calculate":"datum.a*360/1190+90","as":"ang"}],"mark":{"type":"text","radius":347,"align":"right","baseline":"middle","font":"Liberation Serif","fontSize":8,"fill":"#555555"},"encoding":{"theta":{"field":"a","type":"quantitative","stack":false,"scale":{"domain":[0,1190],"range":[0,6.28318]}},"text":{"field":"m","type":"nominal"},"angle":{"field":"ang","type":"quantitative","scale":null}}},
{"data":{"name":"chroms"},"transform":[{"calculate":"(datum.start+datum.end)/2+(datum.c=='MT'?3.5:datum.c=='32'?-1:0)","as":"a"},{"calculate":"datum.a*360/1190","as":"d"},{"calculate":"datum.d<90||datum.d>270?datum.d:datum.d-180","as":"ang"}],"mark":{"type":"text","radius":364,"align":"center","baseline":"middle","font":"Liberation Serif","fontSize":10.5,"fill":"#444444"},"encoding":{"theta":{"field":"a","type":"quantitative","stack":false,"scale":{"domain":[0,1190],"range":[0,6.28318]}},"text":{"field":"c","type":"nominal"},"angle":{"field":"ang","type":"quantitative","scale":null}}},
{"data":{"values":[{"series":"G55W"}]},"mark":{"type":"point","shape":"square","filled":true,"size":196,"opacity":1,"fill":"#fb9450"},"encoding":{"x":{"datum":160,"type":"quantitative","axis":null,"scale":{"domain":[-369,369]}},"y":{"datum":-2,"type":"quantitative","axis":null,"scale":{"domain":[-368,368]}}}},
{"data":{"values":[{"series":"G20W"}]},"mark":{"type":"point","shape":"square","filled":true,"size":196,"opacity":1,"fill":"#45a85f"},"encoding":{"x":{"datum":-148,"type":"quantitative","axis":null,"scale":{"domain":[-369,369]}},"y":{"datum":-6,"type":"quantitative","axis":null,"scale":{"domain":[-368,368]}}}},
{"data":{"values":[{"series":"G55W"}]},"mark":{"type":"text","radius":144,"align":"right","baseline":"middle","font":"Liberation Serif","fontSize":15,"fill":"#f99a5a"},"encoding":{"theta":{"datum":302,"type":"quantitative","stack":false,"scale":{"domain":[0,1190],"range":[0,6.28318]}},"text":{"field":"series","type":"nominal"}}},
{"data":{"values":[{"series":"G20W"}]},"mark":{"type":"text","radius":135,"align":"left","baseline":"middle","font":"Liberation Serif","fontSize":15,"fill":"#4aa962"},"encoding":{"theta":{"datum":885,"type":"quantitative","stack":false,"scale":{"domain":[0,1190],"range":[0,6.28318]}},"text":{"field":"series","type":"nominal"}}}
]}
